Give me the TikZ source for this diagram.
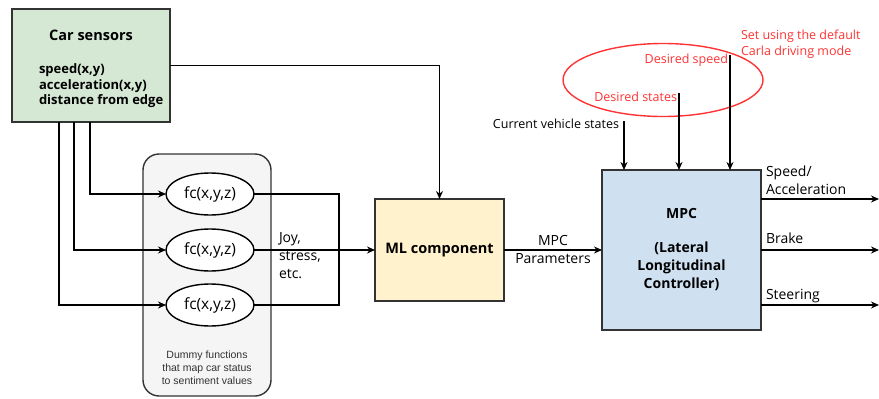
\documentclass[tikz,border=0pt]{standalone}
\usepackage{fontspec}
\setmainfont{Open Sans}
\newfontfamily\notefont{Liberation Sans}
\usetikzlibrary{arrows.meta,shapes.geometric,calc}

\definecolor{linec}{HTML}{333333}
\definecolor{sensfill}{HTML}{D5E8D4}
\definecolor{mlfill}{HTML}{FFF2CC}
\definecolor{mpcfill}{HTML}{CFE0F1}
\definecolor{grpfill}{HTML}{F5F5F5}
\definecolor{notered}{HTML}{FF3333}

\tikzset{
  x=1pt, y=-1pt,
  every node/.style={inner sep=0pt, outer sep=0pt, text=black},
  block/.style={draw=linec, line width=1.4pt, rectangle},
  fcell/.style={draw=black, line width=1.4pt, ellipse, fill=white,
                minimum width=88pt, minimum height=42pt, font=\fontsize{15.5}{17}\selectfont},
  wire/.style={draw=black, line width=1.4pt},
  arr/.style={wire, -{Stealth[length=8pt,width=7pt]}},
  lbl/.style={font=\fontsize{14}{18}\selectfont, align=left},
  rednote/.style={text=notered, font=\fontsize{12.5}{16}\selectfont, align=left}
}

\begin{document}
\begin{tikzpicture}
\useasboundingbox (0,0) rectangle (879,399);

% sensor block
\node[block, fill=sensfill, minimum width=158pt, minimum height=113pt] (cs) at (91,65.5) {};
\node[font=\bfseries\fontsize{14.5}{16}\selectfont] (cst) at (91,35) {Car sensors};
\node[font=\bfseries\fontsize{13}{15.5}\selectfont, align=left, anchor=west] (csl) at (39,86) {speed(x,y)\\acceleration(x,y)\\distance from edge};

% group of dummy functions
\node[draw=linec, line width=1.4pt, fill=grpfill, rounded corners=16pt,
      minimum width=128pt, minimum height=242pt] (grp) at (207,275) {};
\node[font=\notefont\fontsize{10.5}{13}\selectfont, text=linec, align=center] (grpt) at (207,368)
  {Dummy functions\\that map car status\\to sentiment values};

\node[fcell] (e1) at (210,194) {fc(x,y,z)};
\node[fcell] (e2) at (210,250) {fc(x,y,z)};
\node[fcell] (e3) at (210,305) {fc(x,y,z)};

% ML component and MPC
\node[block, fill=mlfill, minimum width=129pt, minimum height=102pt,
      font=\bfseries\fontsize{14.5}{16}\selectfont] (ml) at (439.5,250) {ML component};
\node[block, fill=mpcfill, minimum width=159pt, minimum height=160pt,
      font=\bfseries\fontsize{14}{18}\selectfont, align=center] (mpc) at (681.5,250)
  {MPC\\[16pt](Lateral\\Longitudinal\\Controller)};

% red annotation
\node[draw=notered, line width=1.4pt, ellipse, minimum width=200pt, minimum height=73pt] (sel) at (663,80) {};
\node[rednote, anchor=west] (setn) at (741,44) {Set using the default\\Carla driving mode};

% inputs of MPC
\coordinate (in1) at (624,121);
\coordinate (in2) at (679,93);
\coordinate (in3) at (730,55);
\node[font=\fontsize{12.5}{14}\selectfont, anchor=east] (cvs) at (619,124) {Current vehicle states};
\node[rednote, anchor=east] (dst) at (677,97) {Desired states};
\node[rednote, anchor=east] (dsp) at (728,60) {Desired speed};
\draw[arr] (in1) -- (in1 |- mpc.north);
\draw[arr] (in2) -- (in2 |- mpc.north);
\draw[arr] (in3) -- (in3 |- mpc.north);

% sensor wiring
\draw[arr] (cs.east) -| (ml.north);
\draw[arr] ([xshift=78pt]cs.south west) |- (e1.west);
\draw[arr] ([xshift=62pt]cs.south west) |- (e2.west);
\draw[arr] ([xshift=47pt]cs.south west) |- (e3.west);

% merging of the sentiment outputs
\coordinate (mrg) at (339,250);
\draw[wire] (e1.east) -| (mrg) |- (e3.east);
\draw[arr] (e2.east) -- (ml.west);
\node[lbl, anchor=north west] (joy) at (279,233) {Joy,\\stress,\\etc.};

% ML to MPC
\draw[arr] (ml.east) -- (mpc.west);
\node[font=\fontsize{14}{18}\selectfont, align=center] (mpcp) at (553,249) {MPC\\Parameters};

% outputs
\coordinate (o1) at (879,199);
\coordinate (o2) at (879,250);
\coordinate (o3) at (879,305);
\draw[arr] (mpc.east |- o1) -- (o1);
\draw[arr] (mpc.east |- o2) -- (o2);
\draw[arr] (mpc.east |- o3) -- (o3);
\node[lbl, anchor=west] (osp) at (766,180) {Speed/\\Acceleration};
\node[lbl, anchor=west] (obr) at (766,238) {Brake};
\node[lbl, anchor=west] (ost) at (766,296) {Steering};
\end{tikzpicture}
\end{document}
